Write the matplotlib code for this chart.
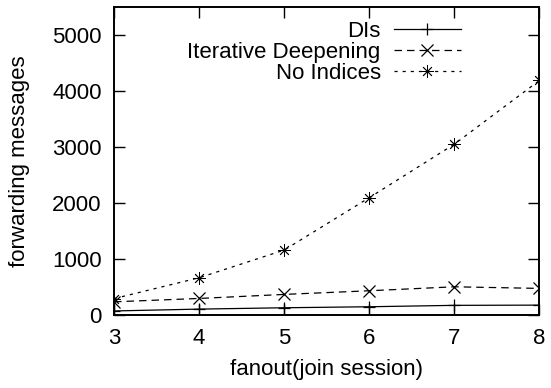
import matplotlib
matplotlib.use("Agg")
import matplotlib.pyplot as plt

# data
fanout = [3, 4, 5, 6, 7, 8]
dis = [80, 113, 137, 155, 180, 184]
iterative = [243, 303, 375, 440, 511, 482]
no_indices = [300, 672, 1166, 2100, 3054, 4190]

yticks = [0, 1000, 2000, 3000, 4000, 5000]

plt.rcParams['font.family'] = ['Liberation Sans', 'DejaVu Sans']
plt.rcParams['font.size'] = 16

fig = plt.figure(figsize=(5.51, 3.88), dpi=100)
ax = fig.add_axes([0.207, 0.187, 0.772, 0.795])

ax.plot(fanout, dis, color='black', lw=0.9, marker='+', ms=9, mew=0.9,
        label='DIs')
ax.plot(fanout, iterative, color='black', lw=0.9, ls=(0, (6, 4)),
        marker='x', ms=8, mew=0.9, label='Iterative Deepening')
ax.plot(fanout, no_indices, color='black', lw=0.9, ls=(0, (2.5, 4)),
        marker=(8, 2, 0), ms=9, mew=0.6, label='No Indices')

ax.set_xlim(3, 8)
ax.set_ylim(0, 5500)
ax.set_xticks(fanout)
ax.set_yticks(yticks)
ax.tick_params(direction='in', length=8, width=1, top=True, right=True, pad=9)
for s in ax.spines.values():
    s.set_linewidth(1.4)

ax.set_xlabel('fanout(join session)', labelpad=7)
ax.set_ylabel('forwarding messages', labelpad=16)

ax.legend(loc='upper right', frameon=False, markerfirst=False,
          handlelength=3.0, numpoints=1, labelspacing=0.0,
          bbox_to_anchor=(0.862, 1.02), handletextpad=0.6)

fig.savefig('out.png', dpi=100)
